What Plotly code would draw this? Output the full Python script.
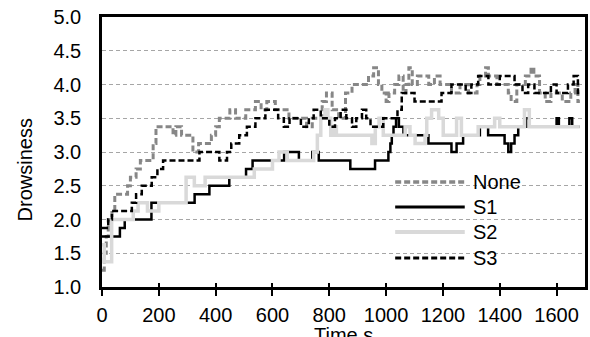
import plotly.graph_objects as go

# ---- data (time in s, drowsiness level) ----
none_t = [0, 8, 15, 22, 35, 45, 90, 100, 120, 135, 180, 190, 250, 260, 280, 320, 340, 385, 400, 413,
          450, 470, 506, 540, 560, 580, 610, 658, 705, 720, 740, 775, 790, 810, 833, 857, 880, 938, 956,
          973, 985, 1000, 1010, 1030, 1045, 1060, 1070, 1080, 1092, 1110, 1150, 1170, 1190, 1230, 1260,
          1290, 1320, 1330, 1350, 1360, 1390, 1430, 1440, 1460, 1490, 1510, 1520, 1540, 1560, 1580,
          1620, 1650, 1665, 1675, 1682]
none_v = [1.25, 1.5, 1.75, 2.0, 2.125, 2.375, 2.5, 2.625, 2.75, 2.875, 3.125, 3.375, 3.25, 3.375, 3.25,
          3.0, 3.125, 3.25, 3.375, 3.5, 3.625, 3.5, 3.625, 3.75, 3.625, 3.75, 3.625, 3.5, 3.5, 3.375,
          3.5, 3.75, 3.875, 3.625, 3.5, 3.875, 4.0, 4.125, 4.25, 4.0, 3.875, 3.75, 3.875, 4.0, 4.125,
          3.875, 4.0, 4.25, 4.0, 4.125, 4.0, 4.125, 4.0, 3.875, 4.0, 3.875, 4.0, 4.125, 4.25, 4.125,
          4.0, 3.875, 3.75, 4.0, 4.125, 4.25, 4.125, 3.875, 3.75, 3.875, 3.75, 3.875, 4.0, 3.75, 3.75]

s1_t = [0, 63, 80, 174, 326, 378, 448, 507, 530, 641, 693, 740, 763, 874, 961, 1008, 1015, 1020, 1026,
        1035, 1045, 1061, 1149, 1230, 1248, 1271, 1330, 1359, 1417, 1430, 1440, 1452, 1465, 1493, 1504,
        1600, 1608, 1645, 1655, 1682]
s1_v = [1.75, 1.875, 2.0, 2.25, 2.375, 2.5, 2.625, 2.75, 2.875, 3.0, 2.875, 3.0, 2.875, 2.75, 2.875,
        3.0, 3.125, 3.25, 3.375, 3.5, 3.375, 3.25, 3.125, 3.0, 3.125, 3.25, 3.375, 3.25, 3.125, 3.0,
        3.125, 3.25, 3.375, 3.5, 3.375, 3.5, 3.375, 3.5, 3.375, 3.375]

s2_t = [0, 8, 34, 110, 127, 160, 200, 296, 325, 363, 536, 600, 623, 652, 745, 758, 770, 785, 795, 805,
        815, 825, 950, 962, 975, 990, 1067, 1084, 1102, 1137, 1143, 1160, 1185, 1201, 1248, 1265, 1324,
        1382, 1400, 1487, 1504, 1682]
s2_v = [1.625, 1.375, 2.0, 2.125, 2.25, 2.125, 2.25, 2.625, 2.5, 2.625, 2.75, 2.875, 3.0, 2.875, 3.0,
        3.25, 3.5, 3.625, 3.5, 3.25, 3.375, 3.25, 3.125, 3.375, 3.5, 3.25, 3.375, 3.25, 3.125, 3.25,
        3.5, 3.625, 3.5, 3.25, 3.5, 3.25, 3.375, 3.5, 3.375, 3.625, 3.375, 3.375]

s3_t = [0, 22, 35, 105, 120, 140, 175, 195, 215, 343, 413, 440, 455, 483, 510, 540, 575, 620, 640, 660,
        700, 728, 745, 770, 800, 820, 840, 860, 880, 895, 915, 930, 945, 990, 1040, 1055, 1100, 1195,
        1230, 1280, 1300, 1324, 1360, 1400, 1452, 1480, 1500, 1522, 1580, 1600, 1640, 1660, 1675, 1682]
s3_v = [1.875, 2.0, 2.125, 2.25, 2.375, 2.5, 2.625, 2.75, 2.875, 3.0, 2.875, 3.0, 3.125, 3.25, 3.375,
        3.5, 3.625, 3.5, 3.375, 3.5, 3.375, 3.5, 3.625, 3.5, 3.375, 3.5, 3.625, 3.5, 3.375, 3.5, 3.625,
        3.5, 3.375, 3.5, 3.625, 3.875, 3.75, 3.875, 4.0, 3.875, 4.0, 4.125, 4.0, 4.125, 4.0, 3.875,
        4.0, 3.875, 4.0, 3.875, 4.0, 4.125, 3.875, 3.875]

x_ticks = [0, 200, 400, 600, 800, 1000, 1200, 1400, 1600]
y_ticks = [1.0, 1.5, 2.0, 2.5, 3.0, 3.5, 4.0, 4.5, 5.0]

series = [
    ("None", none_t, none_v, "#878787", 3, "6px,3px"),
    ("S1", s1_t, s1_v, "#000000", 2.5, "solid"),
    ("S2", s2_t, s2_v, "#d9d9d9", 3.5, "solid"),
    ("S3", s3_t, s3_v, "#000000", 2.5, "6px,3px"),
]

FONT = "Liberation Sans, Arial, sans-serif"
W, H = 590, 337
L, R, T, B = 102, 2, 17, 50
PW, PH = W - L - R, H - T - B

def px(x):
    return (x - L) / PW

def py(y):
    return 1 - (y - T) / PH

fig = go.Figure()
for name, t, v, col, w, dash in series:
    fig.add_trace(go.Scatter(x=t, y=v, mode="lines", name=name, line_shape="hv",
                             line=dict(color=col, width=w, dash=dash), showlegend=False))

# inner half of crossing tick marks
fig.add_trace(go.Scatter(x=[0], y=[None], xaxis="x2", showlegend=False, hoverinfo="skip"))

fig.update_layout(
    width=W, height=H,
    margin=dict(l=L, r=R, t=T, b=B),
    paper_bgcolor="white", plot_bgcolor="white",
    font=dict(family=FONT, size=20, color="black"),
    xaxis=dict(range=[0, 1700], tickvals=x_ticks, ticks="outside", ticklen=6, tickwidth=2,
               tickcolor="black", showline=True, linewidth=2.5, linecolor="black", mirror=True,
               showgrid=False, zeroline=False, tickfont=dict(size=20), ticklabelstandoff=2),
    xaxis2=dict(range=[0, 1700], overlaying="x", anchor="y", side="bottom", tickvals=x_ticks,
                ticks="inside", ticklen=4, tickwidth=2, tickcolor="black", showticklabels=False,
                showline=False, showgrid=False, zeroline=False),
    yaxis=dict(range=[1, 5], tickvals=y_ticks, tickformat=".1f", ticks="", showline=True,
               linewidth=2.5, linecolor="black", mirror=True, showgrid=True, gridcolor="#a6a6a6",
               gridwidth=1, griddash="4px,3px", zeroline=False, tickfont=dict(size=20),
               ticklabelstandoff=14),
)

annotations = [
    dict(text="Drowsiness", x=px(25), y=py(170), xref="paper", yref="paper", textangle=-90,
         showarrow=False, xanchor="center", yanchor="middle", font=dict(size=20)),
    dict(text="Time s", x=0.5, y=py(322), xref="paper", yref="paper", showarrow=False,
         xanchor="center", yanchor="top", font=dict(size=20)),
]
shapes = []
leg_y = [182, 207, 232, 258]
for (name, t, v, col, w, dash), yy in zip(series, leg_y):
    shapes.append(dict(type="line", xref="paper", yref="paper", x0=px(397), x1=px(467),
                       y0=py(yy), y1=py(yy), line=dict(color=col, width=w + 0.5, dash=dash)))
    annotations.append(dict(text=name, x=px(473), y=py(yy), xref="paper", yref="paper",
                            showarrow=False, xanchor="left", yanchor="middle",
                            font=dict(size=20)))
fig.update_layout(annotations=annotations, shapes=shapes)

fig.write_html("out.html", config={"displayModeBar": False},
               post_script="document.body.style.margin='0px';document.body.style.overflow='hidden';")
